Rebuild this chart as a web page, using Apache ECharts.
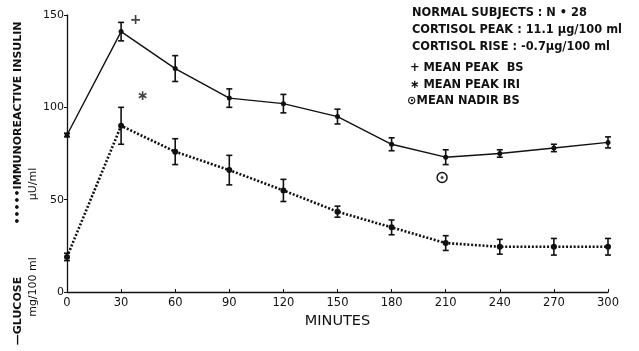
<!DOCTYPE html>
<html>
<head>
<meta charset="utf-8">
<style>
  html, body { margin: 0; padding: 0; background: #fff; }
  #chart { width: 639px; height: 351px; }
</style>
<script src="https://cdn.jsdelivr.net/npm/echarts@6/dist/echarts.min.js"></script>
</head>
<body>
<div id="chart"></div>
<script>
// minutes after the glucose load
var minutes = [0, 30, 60, 90, 120, 150, 180, 210, 240, 270, 300];
// glucose mg/100 ml (solid line) and its SE
var glucose = [85, 141, 121, 105, 102, 95, 80, 73, 75, 78, 81];
var glucoseErr = [1, 5, 7, 5, 5, 4, 3.5, 4, 2, 2, 3];
// immunoreactive insulin µU/ml (dotted line) and its SE
var insulin = [19, 90, 76, 66, 55, 43.5, 35, 26.5, 24.5, 24.5, 24.5];
var insulinErr = [2, 10, 7, 8, 6, 3, 4, 4, 4, 4.5, 4.5];
// marked points: mean peak BS, mean peak IRI, mean nadir BS
var peakBS = [38, 147];
var peakIRI = [42, 106];
var nadirBS = [208, 62];
var yTicks = [0, 50, 100, 150];
var xTicks = minutes;

var notes = [
  'NORMAL SUBJECTS : N \u2022 28',
  'CORTISOL PEAK : 11.1 \u03BCg/100 ml',
  'CORTISOL RISE : -0.7\u03BCg/100 ml',
  '+ MEAN PEAK  BS',
  '\u2217 MEAN PEAK IRI',
  '\u2299MEAN NADIR BS'
];

var ink = '#111';
var font = 'DejaVu Sans';

function pairs(ys) {
  return minutes.map(function (m, i) { return [m, ys[i]]; });
}
function errData(ys, es) {
  return minutes.map(function (m, i) { return [m, ys[i] - es[i], ys[i] + es[i]]; });
}
function errorBars(params, api) {
  var lo = api.coord([api.value(0), api.value(1)]);
  var hi = api.coord([api.value(0), api.value(2)]);
  var w = 3;
  var st = { stroke: ink, lineWidth: 1.6 };
  return {
    type: 'group',
    children: [
      { type: 'line', shape: { x1: lo[0], y1: lo[1], x2: hi[0], y2: hi[1] }, style: st },
      { type: 'line', shape: { x1: lo[0] - w, y1: lo[1], x2: lo[0] + w, y2: lo[1] }, style: st },
      { type: 'line', shape: { x1: hi[0] - w, y1: hi[1], x2: hi[0] + w, y2: hi[1] }, style: st }
    ]
  };
}

var chart = echarts.init(document.getElementById('chart'));

var graphics = notes.map(function (t, i) {
  var ys = [15, 32, 49, 70, 87, 103];
  return {
    type: 'text', left: i >= 5 ? 407 : (i >= 3 ? 410 : 412), top: ys[i] - 7,
    style: { text: t, fill: ink, font: 'bold 11.4px "' + font + '"' }
  };
});
graphics.push(
  { type: 'text', x: 13, y: 123, rotation: Math.PI / 2,
    style: { text: '\u2022\u2022\u2022\u2022\u2022IMMUNOREACTIVE INSULIN', fill: ink,
      font: 'bold 11px "' + font + '"', align: 'center', verticalAlign: 'top' } },
  { type: 'text', x: 28, y: 184, rotation: Math.PI / 2,
    style: { text: '\u03BCU/ml', fill: ink, font: '11px "' + font + '"', align: 'center', verticalAlign: 'top' } },
  { type: 'text', x: 13, y: 311, rotation: Math.PI / 2,
    style: { text: '\u2014GLUCOSE', fill: ink, font: 'bold 11px "' + font + '"', align: 'center', verticalAlign: 'top' } },
  { type: 'text', x: 28, y: 287, rotation: Math.PI / 2,
    style: { text: 'mg/100 ml', fill: ink, font: '11px "' + font + '"', align: 'center', verticalAlign: 'top' } }
);

chart.setOption({
  animation: false,
  backgroundColor: '#fff',
  grid: { left: 67, right: 31, top: 15, bottom: 59 },
  xAxis: {
    type: 'value', min: 0, max: 300, interval: 30,
    name: 'MINUTES', nameLocation: 'middle', nameGap: 20,
    nameTextStyle: { color: ink, fontFamily: font, fontSize: 14.5 },
    axisLine: { lineStyle: { color: ink, width: 1.3 } },
    axisTick: { inside: true, length: 3, lineStyle: { color: ink } },
    axisLabel: {
      color: ink, fontFamily: font, fontSize: 11.5, margin: 5,
      customValues: xTicks
    },
    splitLine: { show: false }
  },
  yAxis: {
    type: 'value', min: 0, max: 150, interval: 50,
    axisLine: { show: true, lineStyle: { color: ink, width: 1.3 } },
    axisTick: { show: true, length: 3, lineStyle: { color: ink } },
    axisLabel: { color: ink, fontFamily: font, fontSize: 11, margin: 3, customValues: yTicks },
    splitLine: { show: false }
  },
  graphic: graphics,
  series: [
    {
      name: 'Glucose', type: 'line', data: pairs(glucose),
      symbol: 'circle', symbolSize: 5, itemStyle: { color: ink },
      lineStyle: { color: ink, width: 1.4 }
    },
    {
      name: 'Insulin', type: 'line', data: pairs(insulin),
      symbol: 'circle', symbolSize: 6, itemStyle: { color: ink },
      lineStyle: { color: ink, width: 2.6, type: [2, 1.8] }
    },
    { type: 'custom', renderItem: errorBars, data: errData(glucose, glucoseErr), z: 3 },
    { type: 'custom', renderItem: errorBars, data: errData(insulin, insulinErr), z: 3 },
    {
      type: 'scatter', symbolSize: 0,
      data: [
        { value: peakBS, name: '+' },
        { value: peakIRI, name: '\u2217' }
      ],
      label: {
        show: true, position: 'inside', formatter: '{b}',
        color: ink, fontFamily: font, fontSize: 14, fontWeight: 'bold'
      }
    },
    {
      type: 'scatter', data: [nadirBS], symbol: 'circle', symbolSize: 10,
      itemStyle: { color: '#fff', borderColor: ink, borderWidth: 1.4, opacity: 1 }, z: 3
    },
    {
      type: 'scatter', data: [nadirBS], symbol: 'circle', symbolSize: 3,
      itemStyle: { color: ink }, z: 4
    }
  ]
});
</script>
</body>
</html>
